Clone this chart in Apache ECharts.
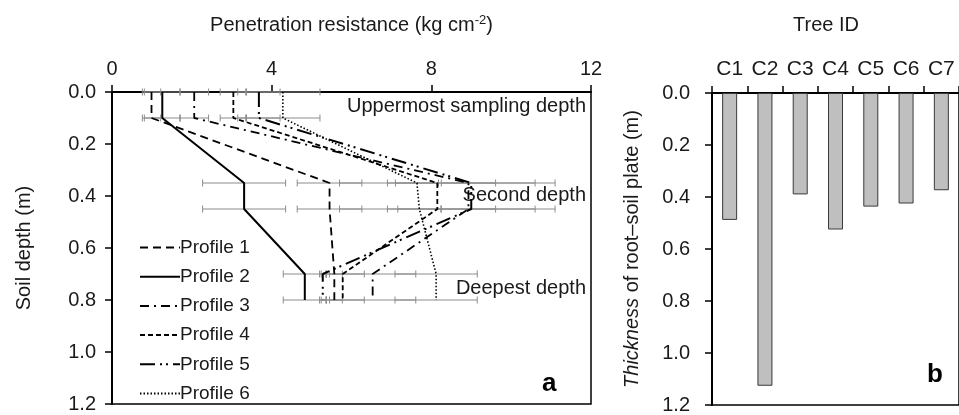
<!DOCTYPE html>
<html><head><meta charset="utf-8">
<script src="https://cdn.jsdelivr.net/npm/echarts@6/dist/echarts.min.js"></script>
<style>html,body{margin:0;padding:0;background:#fff}#c{width:959px;height:415px}</style>
</head><body><div id="c"></div>
<script>
// ---- Panel a data ----
const depths = [0, 0.1, 0.35, 0.45, 0.7, 0.8];
const profileNames = ['Profile 1','Profile 2','Profile 3','Profile 4','Profile 5','Profile 6'];
const profile1 = [0.99, 0.99, 5.45, 5.45, 5.57, 5.57];
const profile2 = [1.26, 1.26, 3.31, 3.31, 4.83, 4.83];
const profile3 = [2.06, 2.06, 8.93, 8.93, 6.53, 6.53];
const profile4 = [3.04, 3.04, 8.15, 8.15, 5.78, 5.78];
const profile5 = [3.68, 3.68, 9.00, 9.00, 5.28, 5.28];
const profile6 = [4.28, 4.28, 7.64, 7.70, 8.12, 8.12];
// error half-widths (kg cm-2)
const err1 = [0.23, 0.23, 0.81, 0.81, 0.20, 0.20];
const err2 = [0.45, 0.45, 1.04, 1.04, 0.54, 0.54];
const err3 = [0.36, 0.36, 0.68, 0.68, 1.08, 1.08];
const err4 = [0.33, 0.33, 2.45, 2.45, 0.54, 0.54];
const err5 = [0.53, 0.53, 2.10, 2.10, 0.08, 0.08];
const err6 = [0.93, 0.93, 0.54, 0.54, 1.03, 1.03];
// ---- Panel b data ----
const trees = ['C1','C2','C3','C4','C5','C6','C7'];
const thickness = [0.488, 1.126, 0.39, 0.525, 0.437, 0.425, 0.374];

const profiles = [profile1, profile2, profile3, profile4, profile5, profile6];
const errs = [err1, err2, err3, err4, err5, err6];
const dashes = [[8,5], 'solid', [9,5,2,5], [5,3], [15,5,2,4,2,5], [1.5,2]];
const widths = [1.8, 2, 1.8, 1.8, 2, 1.6];

const FONT = 'Liberation Sans';
const TXT = '#1a1a1a';
const FS = 20;
const chart = echarts.init(document.getElementById('c'), null, {renderer:'canvas'});

const errData = [];
errs.forEach((e, i) => depths.forEach((d, j) => errData.push([d, profiles[i][j] - e[j], profiles[i][j] + e[j]])));

const series = [{
  type: 'custom', xAxisIndex: 0, yAxisIndex: 0, z: 1, silent: true,
  data: errData,
  encode: {x: [1, 2], y: 0},
  renderItem: function (params, api) {
    const a = api.coord([api.value(1), api.value(0)]);
    const b = api.coord([api.value(2), api.value(0)]);
    const st = {stroke: '#8c8c8c', lineWidth: 1};
    return {type: 'group', children: [
      {type: 'line', shape: {x1: a[0], y1: a[1], x2: b[0], y2: b[1]}, style: st},
      {type: 'line', shape: {x1: a[0], y1: a[1] - 3.5, x2: a[0], y2: a[1] + 3.5}, style: st},
      {type: 'line', shape: {x1: b[0], y1: b[1] - 3.5, x2: b[0], y2: b[1] + 3.5}, style: st}
    ]};
  }
}];
profiles.forEach((p, i) => series.push({
  name: profileNames[i], type: 'line', xAxisIndex: 0, yAxisIndex: 0, z: 3,
  symbol: 'none', animation: false,
  data: p.map((v, j) => [v, depths[j]]),
  lineStyle: {color: '#000', width: widths[i], type: dashes[i]},
  itemStyle: {color: '#000'}
}));
series.push({
  type: 'bar', xAxisIndex: 1, yAxisIndex: 1, data: thickness, barWidth: 15,
  itemStyle: {color: '#bfbfbf', borderColor: '#3a3a3a', borderWidth: 1}
});

const lbl = {fontFamily: FONT, fontSize: FS, color: TXT};
chart.setOption({
  animation: false,
  textStyle: {fontFamily: FONT},
  grid: [
    {left: 112, top: 92, width: 479, height: 312, show: true, borderColor: '#000', borderWidth: 1.5, backgroundColor: 'transparent'},
    {left: 712, top: 93, width: 256.7, height: 313, show: true, borderColor: '#000', borderWidth: 1.5, backgroundColor: 'transparent'}
  ],
  xAxis: [
    {type: 'value', gridIndex: 0, position: 'top', min: 0, max: 12, interval: 4,
     name: 'Penetration resistance (kg cm{sup|-2})', nameLocation: 'middle', nameGap: 55,
     nameTextStyle: {fontFamily: FONT, fontSize: FS, color: TXT, rich: {sup: {fontSize: 13, verticalAlign: 'top', padding: [0,0,10,0], color: TXT, fontFamily: FONT}}},
     axisLine: {show: true, lineStyle: {color: '#000', width: 2}},
     axisTick: {show: true, inside: false, length: 7, lineStyle: {color: '#000', width: 1.5}},
     axisLabel: Object.assign({margin: 13}, lbl), splitLine: {show: false}},
    {type: 'category', gridIndex: 1, position: 'top', data: trees, boundaryGap: true,
     axisLine: {show: true, lineStyle: {color: '#000', width: 2}},
     axisTick: {show: true, length: 7, alignWithLabel: false, lineStyle: {color: '#000', width: 1.5}},
     axisLabel: Object.assign({margin: 13}, lbl, {fontSize: 21})}
  ],
  yAxis: [
    {type: 'value', gridIndex: 0, inverse: true, min: 0, max: 1.2, interval: 0.2,
     name: 'Soil depth (m)', nameLocation: 'middle', nameGap: 78, nameRotate: 90,
     nameTextStyle: {fontFamily: FONT, fontSize: FS, color: TXT},
     axisLine: {show: true, lineStyle: {color: '#000', width: 2}},
     axisTick: {show: true, length: 7, lineStyle: {color: '#000', width: 1.5}},
     axisLabel: Object.assign({margin: 16, formatter: v => v.toFixed(1)}, lbl), splitLine: {show: false}},
    {type: 'value', gridIndex: 1, inverse: true, min: 0, max: 1.2, interval: 0.2,
     name: '{i|Thickness} of root–soil plate (m)', nameLocation: 'middle', nameGap: 70, nameRotate: 90,
     nameTextStyle: {fontFamily: FONT, fontSize: FS, color: TXT, rich: {i: {fontStyle: 'italic', fontFamily: FONT, fontSize: FS, color: TXT}}},
     axisLine: {show: true, lineStyle: {color: '#000', width: 2}},
     axisTick: {show: true, length: 7, lineStyle: {color: '#000', width: 1.5}},
     axisLabel: Object.assign({margin: 22, formatter: v => v.toFixed(1)}, lbl), splitLine: {show: false}}
  ],
  legend: {
    data: profileNames, orient: 'vertical', left: 134, top: 233,
    itemWidth: 40, itemHeight: 19, itemGap: 10.2,
    itemStyle: {opacity: 0},
    textStyle: {fontFamily: FONT, fontSize: 19, color: TXT, padding: [0,0,0,-5]},
    selectedMode: false
  },
  graphic: [
    {type: 'text', right: 959 - 586, top: 96, style: {text: 'Uppermost sampling depth', font: FS + 'px "Liberation Sans"', fill: TXT}},
    {type: 'text', right: 959 - 586, top: 185, style: {text: 'Second depth', font: FS + 'px "Liberation Sans"', fill: TXT}},
    {type: 'text', right: 959 - 586, top: 278, style: {text: 'Deepest depth', font: FS + 'px "Liberation Sans"', fill: TXT}},
    {type: 'text', left: 542, top: 371, style: {text: 'a', font: 'bold 26px "Liberation Sans"', fill: '#000'}},
    {type: 'text', left: 927, top: 362, style: {text: 'b', font: 'bold 26px "Liberation Sans"', fill: '#000'}},
    {type: 'text', left: 793, top: 15, style: {text: 'Tree ID', font: FS + 'px "Liberation Sans"', fill: TXT}}
  ],
  series: series
});
</script></body></html>
